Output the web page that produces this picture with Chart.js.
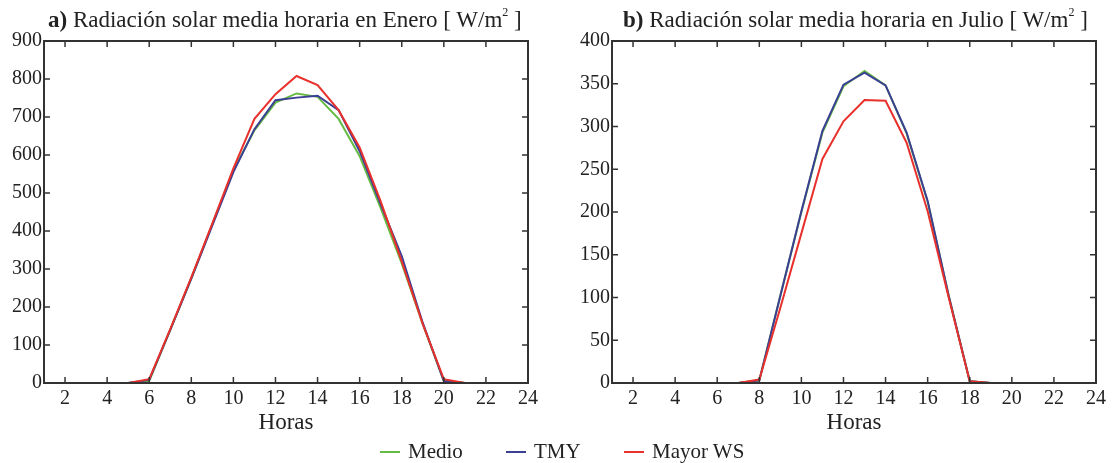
<!DOCTYPE html>
<html lang="es">
<head>
  <meta charset="UTF-8" />
  <title>Radiación solar media horaria</title>
  <script src="https://cdn.jsdelivr.net/npm/chart.js@4.4.0/dist/chart.umd.min.js"></script>
  <style>
    body        { margin:0; background:#fff; font-family:"Liberation Serif", serif; color:#222; }
    .page       { position:relative; width:1113px; height:463px; overflow:hidden; }
    canvas      { position:absolute; top:0; }
    #chartEnero { left:0; }
    #chartJulio { left:556px; }

    /* panel titles */
    .ptitle     { position:absolute; top:7px; font-size:23px; white-space:nowrap; color:#222; }
    .ptitle sup { font-size:12px; position:relative; top:-2px; }

    /* shared legend */
    .lg         { position:absolute; top:439px; font-size:21px; white-space:nowrap; display:flex; align-items:center; }
    .lg i       { display:inline-block; width:20px; height:2px; margin-right:8px; }
  </style>
</head>
<body>
<div class="page">
  <canvas id="chartEnero" width="556" height="463"></canvas>
  <canvas id="chartJulio" width="557" height="463"></canvas>

  <div class="ptitle" style="left:48px"><b>a)</b> Radiación solar media horaria en Enero [ W/m<sup>2</sup> ]</div>
  <div class="ptitle" style="left:623px"><b>b)</b> Radiación solar media horaria en Julio [ W/m<sup>2</sup> ]</div>

  <div class="lg" style="left:380px"><i style="background:#66bb44"></i>Medio</div>
  <div class="lg" style="left:506px"><i style="background:#3b3f94"></i>TMY</div>
  <div class="lg" style="left:624px"><i style="background:#e8302c"></i>Mayor WS</div>
</div>

<script>
  /* ── data ── */
  const hours  = [1,2,3,4,5,6,7,8,9,10,11,12,13,14,15,16,17,18,19,20,21,22,23,24];
  const xTicks = [2,4,6,8,10,12,14,16,18,20,22,24];

  const eneroMedio = [0,0,0,0,0,5,140,275,418,560,665,738,762,753,695,597,460,315,155,5,0,0,0,0];
  const eneroTMY   = [0,0,0,0,0,8,140,275,415,555,668,744,751,756,718,610,470,334,158,5,0,0,0,0];
  const eneroWS    = [0,0,0,0,0,10,142,278,420,565,695,760,808,784,718,620,478,320,155,10,0,0,0,0];

  const julioMedio = [0,0,0,0,0,0,0,3,102,200,293,347,365,348,292,212,102,2,0,0,0,0,0,0];
  const julioTMY   = [0,0,0,0,0,0,0,3,102,201,295,349,363,348,293,213,102,2,0,0,0,0,0,0];
  const julioWS    = [0,0,0,0,0,0,0,4,88,175,262,306,331,330,281,201,100,2,0,0,0,0,0,0];

  const seriesNames  = ['Medio','TMY','Mayor WS'];
  const seriesColors = ['#66bb44','#3b3f94','#e8302c'];
  const seriesOrder  = [3,2,1];   // red on top, green underneath

  const FONT = '"Liberation Serif", serif';

  /* box frame with inward ticks on all four sides */
  const framePlugin = {
    id:'frame',
    afterDraw(chart){
      const {ctx, chartArea:a, scales:{x,y}} = chart;
      const len = 6;
      ctx.save();
      ctx.strokeStyle = '#333';
      ctx.lineWidth = 2;
      ctx.strokeRect(a.left, a.top, a.right-a.left, a.bottom-a.top);
      ctx.lineWidth = 1.5;
      ctx.beginPath();
      x.ticks.forEach(t=>{
        const px = x.getPixelForValue(t.value);
        ctx.moveTo(px, a.bottom); ctx.lineTo(px, a.bottom-len);
        ctx.moveTo(px, a.top);    ctx.lineTo(px, a.top+len);
      });
      y.ticks.forEach(t=>{
        const py = y.getPixelForValue(t.value);
        ctx.moveTo(a.left, py);  ctx.lineTo(a.left+len, py);
        ctx.moveTo(a.right, py); ctx.lineTo(a.right-len, py);
      });
      ctx.stroke();
      ctx.restore();
    }
  };

  function makeChart(id, series, yMax, yStep, yWidth, padRight){
    const datasets = series.map((vals,i)=>({
      label: seriesNames[i],
      data: hours.map((h,k)=>({x:h, y:vals[k]})),
      borderColor: seriesColors[i],
      order: seriesOrder[i],
      borderWidth: 2,
      pointRadius: 0,
      tension: 0,
      fill: false
    }));

    return new Chart(document.getElementById(id), {
      type:'line',
      data:{ datasets },
      options:{
        responsive:false,
        animation:false,
        devicePixelRatio:1,
        layout:{ padding:{ top:41, right:padRight, bottom:26, left:0 } },
        plugins:{ legend:{display:false}, tooltip:{enabled:false} },
        scales:{
          x:{
            type:'linear', min:1, max:24,
            afterBuildTicks: s => { s.ticks = xTicks.map(v=>({value:v})); },
            afterFit: s => { s.height = 54; },
            grid:{ display:false, drawTicks:false },
            border:{ display:false },
            ticks:{ color:'#222', padding:4, font:{family:FONT, size:20} },
            title:{ display:true, text:'Horas', color:'#222', padding:{top:0,bottom:0}, font:{family:FONT, size:23} }
          },
          y:{
            min:0, max:yMax,
            afterFit: s => { s.width = yWidth; },
            grid:{ display:false, drawTicks:false },
            border:{ display:false },
            ticks:{ stepSize:yStep, color:'#222', padding:2, font:{family:FONT, size:20} }
          }
        }
      },
      plugins:[framePlugin]
    });
  }

  makeChart('chartEnero', [eneroMedio, eneroTMY, eneroWS], 900, 100, 44, 28);
  makeChart('chartJulio', [julioMedio, julioTMY, julioWS], 400, 50, 56, 17);
</script>
</body>
</html>
